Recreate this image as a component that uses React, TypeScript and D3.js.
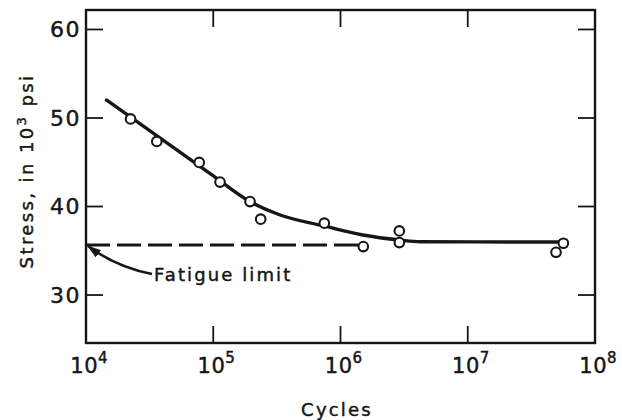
import { useMemo } from "react";
import * as d3 from "d3";

const WIDTH = 622;
const HEIGHT = 420;
const MARGIN = { top: 10, right: 27, bottom: 77, left: 86 };

// test specimens (cycles to failure, stress in 10^3 psi)
const testCycles = [22400, 36000, 77600, 113000, 194500, 236000, 746000, 1510000, 2900000, 2900000, 56400000, 49400000];
const testStress = [49.9, 47.35, 44.98, 42.76, 40.56, 38.57, 38.12, 35.47, 37.24, 35.92, 35.85, 34.83];

// faired S-N curve through the points
const curveCycles = [14500, 94000, 195000, 335000, 728000, 1500000, 2940000, 4200000, 12000000, 58000000];
const curveStress = [52.03, 43.75, 40.54, 39.04, 37.83, 36.78, 36.21, 36.02, 36.0, 35.99];

// dashed fatigue limit line
const fatigueLimit = 35.65;
const fatigueLimitEnd = 1600000;

const yTicks = [30, 40, 50, 60];
const xExponents = [4, 5, 6, 7, 8];
const xInnerTicks = [5, 6, 7];

const FONT = "'DejaVu Sans', Verdana, sans-serif";
const INK = "#161616";

export default function App() {
  const boundsWidth = WIDTH - MARGIN.left - MARGIN.right;
  const boundsHeight = HEIGHT - MARGIN.top - MARGIN.bottom;

  const xScale = useMemo(
    () => d3.scaleLog().domain([1e4, 1e8]).range([0, boundsWidth]),
    [boundsWidth]
  );
  const yScale = useMemo(
    () => d3.scaleLinear().domain([24.58, 62.2]).range([boundsHeight, 0]),
    [boundsHeight]
  );

  const curvePath = d3
    .line<number>()
    .x((c) => xScale(c))
    .y((_, i) => yScale(curveStress[i]))
    .curve(d3.curveMonotoneX)(curveCycles);

  const tick = 17;

  // arrow from the label to the start of the dashed line
  const tipX = xScale(1e4) + 2;
  const tipY = yScale(fatigueLimit) + 1;

  // scanned lettering is heavy, thicken the glyphs a little
  const textStyle = {
    fontFamily: FONT,
    fill: INK,
    stroke: INK,
    strokeWidth: 0.45,
  };

  return (
    <svg
      width={WIDTH}
      height={HEIGHT}
      style={{ position: "absolute", left: 0, top: 0, background: "#fff" }}
    >
      <defs>
        <marker
          id="arrowHead"
          viewBox="0 0 14 9"
          refX="13"
          refY="4.5"
          markerWidth="14"
          markerHeight="9"
          markerUnits="userSpaceOnUse"
          orient="auto"
        >
          <path d="M0,0 L14,4.5 L0,9 Z" fill={INK} />
        </marker>
      </defs>
      <g transform={`translate(${MARGIN.left},${MARGIN.top})`}>
        {/* frame */}
        <rect
          x={0}
          y={0}
          width={boundsWidth}
          height={boundsHeight}
          fill="none"
          stroke={INK}
          strokeWidth={2.4}
        />

        {/* y ticks, both sides, pointing inward */}
        {yTicks.map((t) => (
          <g key={t}>
            <line x1={0} x2={tick} y1={yScale(t)} y2={yScale(t)} stroke={INK} strokeWidth={1.8} />
            <line
              x1={boundsWidth - tick}
              x2={boundsWidth}
              y1={yScale(t)}
              y2={yScale(t)}
              stroke={INK}
              strokeWidth={1.8}
            />
            <text
              x={-5}
              y={yScale(t)}
              dy="0.36em"
              textAnchor="end"
              fontSize={22}
              letterSpacing={1.5}
              style={textStyle}
            >
              {t}
            </text>
          </g>
        ))}

        {/* x ticks, bottom and top */}
        {xInnerTicks.map((e) => (
          <g key={e}>
            <line
              x1={xScale(10 ** e)}
              x2={xScale(10 ** e)}
              y1={boundsHeight}
              y2={boundsHeight - tick}
              stroke={INK}
              strokeWidth={1.8}
            />
            <line x1={xScale(10 ** e)} x2={xScale(10 ** e)} y1={0} y2={tick} stroke={INK} strokeWidth={1.8} />
          </g>
        ))}
        {xExponents.map((e) => (
          <text
            key={e}
            x={xScale(10 ** e) + 3}
            y={boundsHeight + 30}
            textAnchor="middle"
            fontSize={21}
            style={textStyle}
          >
            <tspan letterSpacing={0.5}>10</tspan>
            <tspan dy={-10} fontSize={15}>
              {e}
            </tspan>
          </text>
        ))}

        {/* fatigue limit */}
        <line
          x1={0}
          x2={xScale(fatigueLimitEnd)}
          y1={yScale(fatigueLimit)}
          y2={yScale(fatigueLimit)}
          stroke={INK}
          strokeWidth={3}
          strokeDasharray="24,7"
        />

        {/* S-N curve */}
        <path d={curvePath ?? ""} fill="none" stroke={INK} strokeWidth={3.4} strokeLinecap="round" />

        {/* data points */}
        {testCycles.map((c, i) => (
          <circle
            key={i}
            cx={xScale(c)}
            cy={yScale(testStress[i])}
            r={4.8}
            fill="#fff"
            stroke={INK}
            strokeWidth={2.1}
          />
        ))}

        {/* annotation */}
        <path
          d={`M${tipX + 64},${tipY + 28} Q${tipX + 28},${tipY + 21} ${tipX},${tipY}`}
          fill="none"
          stroke={INK}
          strokeWidth={2.6}
          markerEnd="url(#arrowHead)"
        />
        <text x={tipX + 66} y={tipY + 35} fontSize={18} letterSpacing={2.1} style={textStyle}>
          Fatigue limit
        </text>
      </g>

      {/* axis titles */}
      <text x={337} y={416} textAnchor="middle" fontSize={18} letterSpacing={2.2} style={textStyle}>
        Cycles
      </text>
      <text
        transform="translate(33,171) rotate(-90)"
        textAnchor="middle"
        fontSize={18}
        letterSpacing={2.4}
        style={textStyle}
      >
        Stress, in 10
        <tspan dy={-7} fontSize={13}>
          3
        </tspan>
        <tspan dy={7}> psi</tspan>
      </text>
    </svg>
  );
}
